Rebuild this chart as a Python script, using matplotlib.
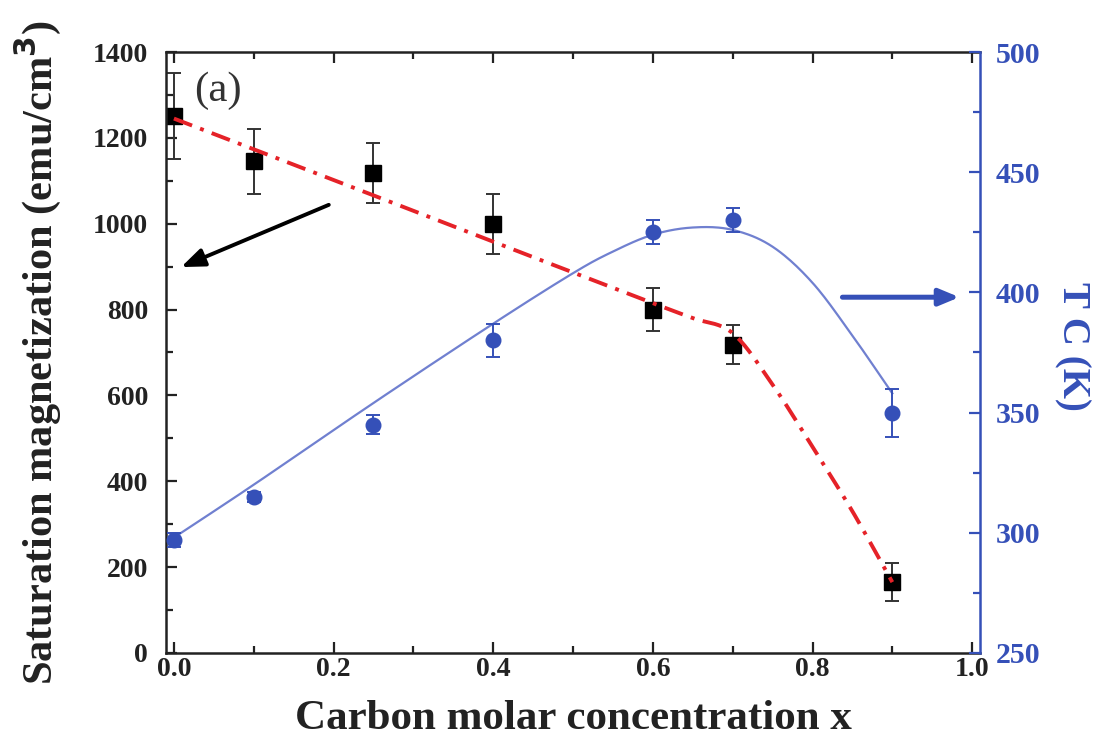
import numpy as np
import matplotlib
matplotlib.use("Agg")
import matplotlib.pyplot as plt
from matplotlib.ticker import MultipleLocator

plt.rcParams["font.family"] = ["Liberation Serif", "DejaVu Serif"]
plt.rcParams["font.weight"] = "bold"

# --- data: carbon molar concentration x ---
x = [0.0, 0.1, 0.25, 0.4, 0.6, 0.7, 0.9]
ms = [1250, 1145, 1118, 1000, 800, 718, 165]       # saturation magnetization (emu/cm3)
ms_err = [100, 75, 70, 70, 50, 45, 44]
tc = [297, 315, 345, 380, 425, 430, 350]           # Curie temperature (K)
tc_err = [3, 2, 4, 7, 5, 5, 10]

# guide lines (hand drawn through the points)
ms_guide_x = [0.0, 0.2, 0.4, 0.6, 0.65, 0.7, 0.75, 0.8, 0.85, 0.9]
ms_guide_y = [1245, 1102, 958, 815, 780, 745, 625, 480, 330, 165]
tc_guide_x = [0.0, 0.1, 0.25, 0.4, 0.5, 0.55, 0.6, 0.65, 0.7, 0.75, 0.8, 0.85, 0.9]
tc_guide_y = [298, 320, 354, 387, 408, 417, 424, 427, 426, 419, 404, 382, 358]


def smooth(px, py, n=20):
    # Catmull-Rom pass through the guide points
    P = np.column_stack([np.asarray(px, float), np.asarray(py, float)])
    P = np.vstack([2 * P[0] - P[1], P, 2 * P[-1] - P[-2]])
    out = []
    t = np.linspace(0, 1, n, endpoint=False)[:, None]
    for i in range(1, len(P) - 2):
        p0, p1, p2, p3 = P[i - 1], P[i], P[i + 1], P[i + 2]
        seg = 0.5 * ((2 * p1) + (-p0 + p2) * t + (2 * p0 - 5 * p1 + 4 * p2 - p3) * t ** 2
                     + (-p0 + 3 * p1 - 3 * p2 + p3) * t ** 3)
        out.append(seg)
    out.append(P[-2][None, :])
    out = np.vstack(out)
    return out[:, 0], out[:, 1]


BLUE = "#3550b8"
LBLUE = "#7080d0"
RED = "#e52228"

fig = plt.figure(figsize=(11.1, 7.54), dpi=100)
ax = fig.add_axes([0.1495, 0.134, 0.7335, 0.797])
ax2 = ax.twinx()

gx, gy = smooth(ms_guide_x, ms_guide_y)
ax.plot(gx, gy, color=RED, lw=2.8, ls=(0, (5, 2.2, 1, 2.2)), zorder=3)
ax.errorbar(x, ms, yerr=ms_err, fmt="s", color="black", ms=11, ecolor="#333333",
            elinewidth=1.4, capsize=5, capthick=1.4, zorder=2)

bx, by = smooth(tc_guide_x, tc_guide_y)
ax2.plot(bx, by, color=LBLUE, lw=1.6, zorder=2)
ax2.errorbar(x, tc, yerr=tc_err, fmt="o", color=BLUE, ms=10.5, ecolor=BLUE,
             elinewidth=1.4, capsize=5, capthick=1.4, zorder=3)

ax.set_xlim(-0.01, 1.01)
ax.set_ylim(0, 1400)
ax2.set_ylim(250, 500)

ax.xaxis.set_major_locator(MultipleLocator(0.2))
ax.xaxis.set_minor_locator(MultipleLocator(0.1))
ax.yaxis.set_major_locator(MultipleLocator(200))
ax.yaxis.set_minor_locator(MultipleLocator(100))
ax2.yaxis.set_major_locator(MultipleLocator(50))
ax2.yaxis.set_minor_locator(MultipleLocator(25))

ax.tick_params(which="both", direction="in", top=True, right=False, colors="#222222",
               width=1.6, labelsize=20)
ax.tick_params(which="major", length=8)
ax.tick_params(which="minor", length=5)
ax.tick_params(axis="x", pad=3)
ax.tick_params(axis="y", pad=13)
ax2.tick_params(which="both", direction="in", colors=BLUE, width=1.6, labelsize=21.5, pad=11)
ax2.tick_params(which="major", length=8)
ax2.tick_params(which="minor", length=5)
ax.xaxis.set_major_formatter(plt.FuncFormatter(lambda v, p: f"{v:.1f}"))

for s in ["left", "bottom", "top"]:
    ax.spines[s].set_linewidth(1.8)
    ax.spines[s].set_color("#222222")
    ax2.spines[s].set_visible(False)
ax.spines["right"].set_visible(False)
ax2.spines["right"].set_color(BLUE)
ax2.spines["right"].set_linewidth(1.8)

ax.set_xlabel("Carbon molar concentration x", fontsize=31, fontweight="bold",
              color="#222222", labelpad=13)
ax.set_ylabel("Saturation magnetization (emu/cm$^\\mathbf{3}$)", fontsize=30.5,
              fontweight="bold", color="#222222", labelpad=21)
ax2.set_ylabel("T C (K)", fontsize=28, fontweight="bold", color=BLUE,
               rotation=270, labelpad=34)
ax2.yaxis.set_label_coords(1.136, 0.51)

ax.text(0.025, 1310, "(a)", fontsize=31, fontweight="normal", color="#333333",
        va="center", ha="left")

# arrows pointing to the relevant axis
ax.annotate("", xy=(0.009, 899), xytext=(0.194, 1044),
            arrowprops=dict(arrowstyle="-|>,head_length=1.4,head_width=0.55",
                            color="black", lw=2.8, shrinkA=0, shrinkB=0))
ax2.annotate("", xy=(0.984, 398), xytext=(0.8375, 398),
             arrowprops=dict(arrowstyle="-|>,head_length=1.2,head_width=0.5",
                             color=BLUE, lw=3.6, shrinkA=0, shrinkB=0))

fig.savefig("out.png", dpi=100)
